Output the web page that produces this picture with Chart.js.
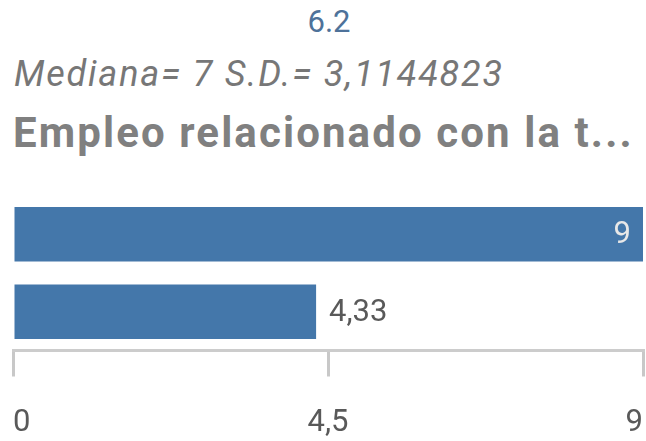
<!DOCTYPE html>
<html>
<head>
<meta charset="utf-8">
<script src="https://cdn.jsdelivr.net/npm/chart.js@4"></script>
<style>
  html, body { margin: 0; padding: 0; background: #fff; }
  body { width: 646px; height: 441px; position: relative; overflow: hidden; font-family: 'Roboto', sans-serif; }
  #valor { position: absolute; top: 2px; left: 0; width: 658px; text-align: center; font-size: 31px; line-height: 40px; color: #4e729a; }
  #stats { position: absolute; top: 52px; left: 14px; font-size: 36px; line-height: 44px; font-style: italic; color: #777; white-space: nowrap; letter-spacing: 1.8px; }
  #titulo { position: absolute; top: 108px; left: 13px; font-size: 42px; line-height: 50px; font-weight: bold; color: #808080; white-space: nowrap; letter-spacing: 2.1px; }
  #graf { position: absolute; top: 190px; left: 0; width: 646px; height: 251px; }
</style>
</head>
<body>
<div id="valor">6.2</div>
<div id="stats">Mediana= 7 S.D.= 3,1144823</div>
<div id="titulo">Empleo relacionado con la t...</div>
<div id="graf"><canvas id="c"></canvas></div>
<script>
// datos del gráfico
const categorias = ['Valor', 'Promedio']
const valores = [9, 4.33]
const etiquetasValores = ['9', '4,33']
const ticksEje = [0, 4.5, 9]
const etiquetasEje = ['0', '4,5', '9']

const fuente = "'Roboto', sans-serif"

// etiquetas de valor sobre las barras
const etiquetasBarras = {
  id: 'etiquetasBarras',
  afterDatasetsDraw(chart) {
    const ctx = chart.ctx
    const meta = chart.getDatasetMeta(0)
    ctx.save()
    ctx.font = '31px ' + fuente
    ctx.textBaseline = 'middle'
    meta.data.forEach(function (bar, i) {
      const texto = etiquetasValores[i]
      const ancho = ctx.measureText(texto).width
      if (bar.x + 13 + ancho > chart.chartArea.right) {
        ctx.fillStyle = '#e8e8e8'
        ctx.textAlign = 'right'
        ctx.fillText(texto, bar.x - 12, bar.y + 1)
      } else {
        ctx.fillStyle = '#595959'
        ctx.textAlign = 'left'
        ctx.fillText(texto, bar.x + 13, bar.y + 1)
      }
    })
    ctx.restore()
  }
}

new Chart(document.getElementById('c'), {
  type: 'bar',
  data: {
    labels: categorias,
    datasets: [{
      data: valores,
      backgroundColor: '#4477aa',
      categoryPercentage: 0.705,
      barPercentage: 1
    }]
  },
  options: {
    indexAxis: 'y',
    responsive: true,
    maintainAspectRatio: false,
    animation: false,
    layout: { padding: { left: 13, right: 3, top: 5.5, bottom: 0 } },
    plugins: { legend: { display: false }, tooltip: { enabled: false } },
    scales: {
      y: { display: false },
      x: {
        min: 0,
        max: 9,
        afterBuildTicks: function (scale) {
          scale.ticks = ticksEje.map(function (v) { return { value: v } })
        },
        afterFit: function (scale) {
          scale.paddingLeft = 0
          scale.paddingRight = 0
          scale.height = 90.5
        },
        border: { display: true, color: '#cccccc', width: 3 },
        grid: { drawOnChartArea: false, drawTicks: true, tickLength: 26, color: '#c8c8c8', lineWidth: 3 },
        ticks: {
          align: 'inner',
          padding: 28,
          color: '#595959',
          font: { family: fuente, size: 31 },
          maxRotation: 0,
          callback: function (v, i) { return etiquetasEje[i] }
        }
      }
    }
  },
  plugins: [etiquetasBarras]
})
</script>
</body>
</html>
